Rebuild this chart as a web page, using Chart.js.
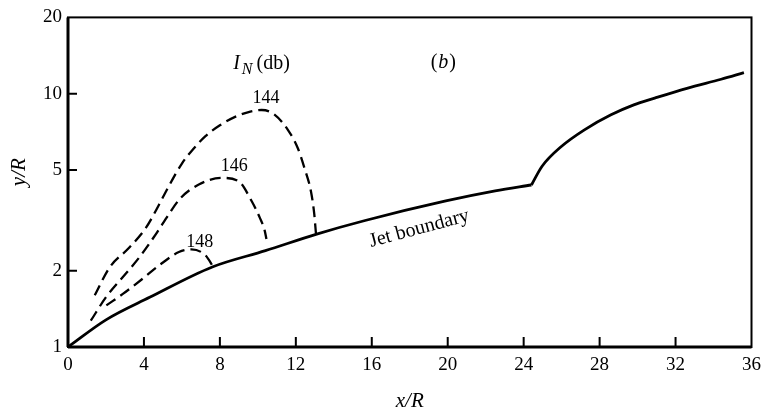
<!DOCTYPE html>
<html>
<head>
  <meta charset="UTF-8">
  <script src="https://cdn.jsdelivr.net/npm/chart.js"></script>
  <title>Jet boundary</title>
  <style>
    body { margin: 0; background: #fff; }
    #wrapper { width: 768px; height: 416px; }
  </style>
</head>
<body>
<div id="wrapper">
  <canvas id="chart" width="768" height="416"></canvas>
</div>
<script>
// axis ticks
const xTicks = [0, 4, 8, 12, 16, 20, 24, 28, 32, 36];
const yTicks = [1, 2, 5, 10, 20];

// jet boundary (solid), before the kink at x/R ~ 24.4
const jetX = [0, 2.0, 4.3, 7.6, 10.4, 13.1, 15.6, 19.9, 22.5, 24.41];
const jetY = [1.0, 1.28, 1.57, 2.07, 2.40, 2.79, 3.15, 3.77, 4.13, 4.36];

// jet boundary (solid), after the kink
const jet2X = [24.41, 24.97, 26.0, 27.2, 28.6, 29.8, 30.9, 32.6, 34.4, 35.6];
const jet2Y = [4.36, 5.17, 6.2, 7.2, 8.25, 9.03, 9.6, 10.5, 11.4, 12.1];

// I_N = 144 db contour
const n144X = [1.41, 2.19, 3.23, 4.1, 4.8, 5.3, 6.0, 6.6, 7.24, 8.0, 8.8, 9.6, 10.2, 10.8, 11.58, 12.1, 12.45, 12.8, 12.97, 13.06];
const n144Y = [1.6, 2.06, 2.47, 2.95, 3.65, 4.3, 5.3, 6.05, 6.8, 7.5, 8.1, 8.5, 8.62, 8.35, 7.2, 6.1, 5.1, 4.1, 3.35, 2.8];

// I_N = 146 db contour
const n146X = [1.2, 2.02, 2.89, 3.76, 4.63, 5.32, 5.9, 6.89, 8.1, 8.97, 9.67, 10.1, 10.36, 10.45];
const n146Y = [1.27, 1.58, 1.89, 2.26, 2.79, 3.35, 3.85, 4.38, 4.65, 4.52, 3.77, 3.24, 2.88, 2.67];

// I_N = 148 db contour
const n148X = [2.02, 2.89, 3.93, 4.8, 5.84, 6.5, 7.24, 7.67];
const n148Y = [1.46, 1.62, 1.86, 2.10, 2.37, 2.43, 2.30, 2.06];

// curve labels
const curveLabels = ['144', '146', '148'];
const curveLabelX = [10.43, 8.76, 6.94];
const curveLabelY = [9.55, 5.17, 2.58];

function pts(xs, ys) {
  return xs.map((x, i) => ({x: x, y: ys[i]}));
}

const SERIF = '"Liberation Serif", "DejaVu Serif", serif';

const decorations = {
  id: 'decorations',
  afterDraw(chart) {
    const ctx = chart.ctx;
    const a = chart.chartArea;
    const xs = chart.scales.x, ys = chart.scales.y;
    ctx.save();
    ctx.strokeStyle = '#000';
    // frame
    ctx.lineWidth = 2;
    ctx.strokeRect(a.left, a.top, a.right - a.left, a.bottom - a.top);
    ctx.lineWidth = 3;
    ctx.beginPath();
    ctx.moveTo(a.left, a.top); ctx.lineTo(a.left, a.bottom);
    ctx.moveTo(a.left, a.bottom); ctx.lineTo(a.right, a.bottom);
    ctx.stroke();
    // inward ticks
    ctx.lineWidth = 2;
    ctx.beginPath();
    xTicks.slice(1, -1).forEach(v => {
      const px = xs.getPixelForValue(v);
      ctx.moveTo(px, a.bottom); ctx.lineTo(px, a.bottom - 10);
    });
    yTicks.slice(1, -1).forEach(v => {
      const py = ys.getPixelForValue(v);
      ctx.moveTo(a.left, py); ctx.lineTo(a.left + 9, py);
    });
    ctx.stroke();

    ctx.fillStyle = '#000';
    ctx.textAlign = 'center';
    ctx.textBaseline = 'middle';
    // contour labels
    ctx.font = '18px ' + SERIF;
    curveLabels.forEach((t, i) => {
      ctx.fillText(t, xs.getPixelForValue(curveLabelX[i]), ys.getPixelForValue(curveLabelY[i]));
    });

    // I_N (db)
    let px = xs.getPixelForValue(8.7), py = ys.getPixelForValue(13.1);
    ctx.textAlign = 'left';
    ctx.font = 'italic 20px ' + SERIF;
    ctx.fillText('I', px, py);
    px += ctx.measureText('I').width + 2;
    ctx.font = 'italic 16px ' + SERIF;
    ctx.fillText('N', px, py + 6);
    px += ctx.measureText('N').width + 4;
    ctx.font = '20px ' + SERIF;
    ctx.fillText('(db)', px, py);

    // (b)
    px = xs.getPixelForValue(19.1); py = ys.getPixelForValue(13.3);
    ctx.font = '20px ' + SERIF;
    ctx.fillText('(', px, py);
    px += ctx.measureText('(').width + 1;
    ctx.font = 'italic 20px ' + SERIF;
    ctx.fillText('b', px, py);
    px += ctx.measureText('b').width + 1;
    ctx.font = '20px ' + SERIF;
    ctx.fillText(')', px, py);

    // Jet boundary label, along the line
    ctx.save();
    ctx.translate(xs.getPixelForValue(18.5), ys.getPixelForValue(2.93));
    ctx.rotate(-15 * Math.PI / 180);
    ctx.textAlign = 'center';
    ctx.font = '20px ' + SERIF;
    ctx.fillText('Jet boundary', 0, 0);
    ctx.restore();

    // axis titles
    ctx.textAlign = 'center';
    ctx.font = 'italic 21px ' + SERIF;
    ctx.fillText('x/R', (a.left + a.right) / 2, 401);
    ctx.save();
    ctx.translate(19, ys.getPixelForValue(4.9));
    ctx.rotate(-Math.PI / 2);
    ctx.fillText('y/R', 0, 0);
    ctx.restore();
    ctx.restore();
  }
};

const line = (data, dashed, width) => ({
  data: data,
  showLine: true,
  borderColor: '#000',
  backgroundColor: '#000',
  borderWidth: width,
  borderDash: dashed ? [11, 6] : [],
  borderCapStyle: 'butt',
  pointRadius: 0,
  fill: false,
  cubicInterpolationMode: 'monotone'
});

const ctx = document.getElementById('chart').getContext('2d');
const chart = new Chart(ctx, {
  type: 'scatter',
  data: {
    datasets: [
      line(pts(jetX, jetY), false, 2.8),
      line(pts(jet2X, jet2Y), false, 2.8),
      line(pts(n144X, n144Y), true, 2.3),
      line(pts(n146X, n146Y), true, 2.3),
      line(pts(n148X, n148Y), true, 2.3)
    ]
  },
  options: {
    responsive: false,
    animation: false,
    layout: { padding: { left: 0, right: 11, top: 15, bottom: 0 } },
    plugins: { legend: { display: false }, tooltip: { enabled: false } },
    scales: {
      x: {
        type: 'linear',
        min: 0,
        max: 36,
        afterBuildTicks: s => { s.ticks = xTicks.map(v => ({value: v})); },
        afterFit: s => { s.height = 69; },
        grid: { display: false, drawTicks: false },
        border: { display: false },
        ticks: {
          color: '#000',
          padding: 7,
          maxRotation: 0,
          font: { family: SERIF, size: 19 }
        }
      },
      y: {
        type: 'logarithmic',
        min: 1,
        max: 20,
        afterBuildTicks: s => { s.ticks = yTicks.map(v => ({value: v})); },
        afterFit: s => { s.width = 68; },
        grid: { display: false, drawTicks: false },
        border: { display: false },
        ticks: {
          color: '#000',
          padding: 6,
          callback: v => String(v),
          font: { family: SERIF, size: 19 }
        }
      }
    }
  },
  plugins: [decorations]
});
</script>
</body>
</html>
